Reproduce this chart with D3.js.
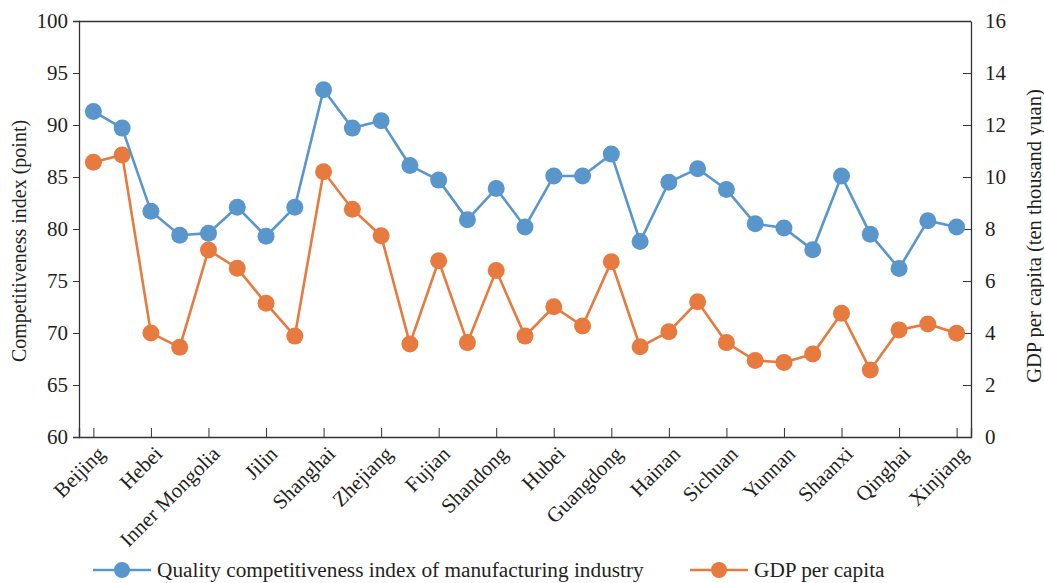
<!DOCTYPE html>
<html>
<head>
<meta charset="utf-8">
<script src="https://cdn.jsdelivr.net/npm/d3@7/dist/d3.min.js"></script>
<style>
  body { margin: 0; background: #fff; }
  svg text { font-family: "Liberation Serif", "Times New Roman", serif; fill: #231f20; }
</style>
</head>
<body>
<div id="chart"></div>
<script>
// provinces, in the order of the x axis
var provinces = ["Beijing", "Tianjin", "Hebei", "Shanxi", "Inner Mongolia", "Liaoning", "Jilin",
  "Heilongjiang", "Shanghai", "Jiangsu", "Zhejiang", "Anhui", "Fujian", "Jiangxi", "Shandong",
  "Henan", "Hubei", "Hunan", "Guangdong", "Guangxi", "Hainan", "Chongqing", "Sichuan", "Guizhou",
  "Yunnan", "Tibet", "Shaanxi", "Gansu", "Qinghai", "Ningxia", "Xinjiang"];

// quality competitiveness index (left axis, point)
var qualityIndex = [91.3, 89.7, 81.7, 79.4, 79.6, 82.1, 79.3, 82.1, 93.4, 89.7, 90.4, 86.1, 84.7,
  80.9, 83.9, 80.2, 85.1, 85.1, 87.2, 78.8, 84.5, 85.8, 83.8, 80.5, 80.1, 78.0, 85.1, 79.5, 76.2,
  80.8, 80.2];

// GDP per capita (right axis, ten thousand yuan)
var gdpPerCapita = [10.57, 10.85, 4.0, 3.45, 7.19, 6.49, 5.14, 3.88, 10.2, 8.76, 7.74, 3.58, 6.78,
  3.63, 6.4, 3.88, 5.01, 4.27, 6.74, 3.47, 4.05, 5.2, 3.63, 2.94, 2.87, 3.19, 4.76, 2.58, 4.12,
  4.35, 3.99];

var leftTicks = [60, 65, 70, 75, 80, 85, 90, 95, 100];
var rightTicks = [0, 2, 4, 6, 8, 10, 12, 14, 16];
var seriesNames = ["Quality competitiveness index of manufacturing industry", "GDP per capita"];

var blue = "#5896cb", orange = "#e77b3f", axisCol = "#333";

var W = 1044, H = 583;
var m = {left: 79, right: 73, top: 21, bottom: 146};
var pw = W - m.left - m.right, ph = H - m.top - m.bottom;

var svg = d3.select("#chart").append("svg").attr("width", W).attr("height", H);
var g = svg.append("g").attr("transform", "translate(" + m.left + "," + m.top + ")");

var x = d3.scalePoint().domain(provinces).range([0, pw]).padding(0.5);
var yL = d3.scaleLinear().domain([60, 100]).range([ph, 0]);
var yR = d3.scaleLinear().domain([0, 16]).range([ph, 0]);

// frame (top line)
g.append("line").attr("x1", 0).attr("x2", pw).attr("y1", 0.5).attr("y2", 0.5)
  .attr("stroke", axisCol).attr("stroke-width", 1.3);

// left axis
var axL = g.append("g").call(d3.axisLeft(yL).tickValues(leftTicks).tickSize(6).tickPadding(5));
// right axis, ticks pointing in
var axR = g.append("g").attr("transform", "translate(" + pw + ",0)")
  .call(d3.axisRight(yR).tickValues(rightTicks).tickSize(0).tickPadding(14));
axR.selectAll(".tick").append("line").attr("x2", -8).attr("stroke", axisCol);

// bottom axis: ticks every other category, pointing up
var labelled = provinces.filter(function(d, i) { return i % 2 === 0; });
var axB = g.append("g").attr("transform", "translate(0," + ph + ")")
  .call(d3.axisBottom(x).tickValues(labelled).tickSize(-9).tickFormat(""));
axB.selectAll(".tick").append("text")
  .attr("transform", "translate(7,13) rotate(-45)")
  .attr("text-anchor", "end").attr("dy", "0.35em")
  .text(function(d) { return d; });

[axL, axR, axB].forEach(function(a) {
  a.select(".domain").attr("stroke", axisCol).attr("stroke-width", 1.3);
  a.selectAll(".tick line").attr("stroke", axisCol);
  a.selectAll("text").style("font-size", "21px").attr("fill", "#231f20")
    .style("font-family", "'Liberation Serif', serif");
});

// axis titles
svg.append("text").attr("transform", "translate(26,241) rotate(-90)")
  .attr("text-anchor", "middle").style("font-size", "20px")
  .text("Competitiveness index (point)");
svg.append("text").attr("transform", "translate(1041,236) rotate(-90)")
  .attr("text-anchor", "middle").style("font-size", "20.5px")
  .text("GDP per capita (ten thousand yuan)");

// series
var series = [
  {name: seriesNames[0], values: qualityIndex, y: yL, color: blue},
  {name: seriesNames[1], values: gdpPerCapita, y: yR, color: orange}
];

series.slice().reverse().forEach(function(s) {
  var line = d3.line().x(function(d, i) { return x(provinces[i]); }).y(function(d) { return s.y(d); });
  g.append("path").datum(s.values).attr("d", line)
    .attr("fill", "none").attr("stroke", s.color).attr("stroke-width", 2.6);
  g.selectAll(null).data(s.values).enter().append("circle")
    .attr("cx", function(d, i) { return x(provinces[i]); })
    .attr("cy", function(d) { return s.y(d); })
    .attr("r", 8.5).attr("fill", s.color);
});

// legend
var legX = [93, 690];
var leg = svg.selectAll("g.leg").data(series).enter().append("g")
  .attr("class", "leg")
  .attr("transform", function(d, i) { return "translate(" + legX[i] + ",570)"; });
leg.append("line").attr("x1", 0).attr("x2", 58).attr("stroke", function(d) { return d.color; })
  .attr("stroke-width", 2.6);
leg.append("circle").attr("cx", 29).attr("r", 8).attr("fill", function(d) { return d.color; });
leg.append("text").attr("x", 64).attr("dy", "0.33em").style("font-size", "21.3px")
  .text(function(d) { return d.name; });
</script>
</body>
</html>
